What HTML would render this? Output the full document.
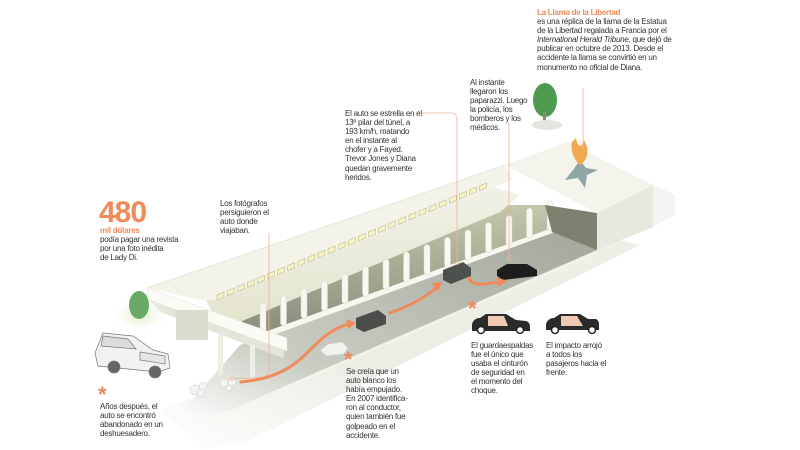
<!DOCTYPE html>
<html><head><meta charset="utf-8"><style>
html,body{margin:0;padding:0;background:#fff;}
body{width:800px;height:450px;overflow:hidden;position:relative;font-family:"Liberation Sans",sans-serif;}
.t{position:absolute;font-size:8px;line-height:9.1px;color:#333;letter-spacing:-0.25px;white-space:nowrap;}
.o{color:#ef8a5a;}
svg{position:absolute;left:0;top:0;}
</style></head><body>
<svg width="800" height="450" viewBox="0 0 800 450">
<defs>
<linearGradient id="road" x1="0" y1="1" x2="1" y2="0">
<stop offset="0" stop-color="#ffffff"/><stop offset="0.3" stop-color="#c9ccc2"/><stop offset="1" stop-color="#a3a79b"/></linearGradient>
<linearGradient id="dark" x1="0" y1="0" x2="0" y2="1">
<stop offset="0" stop-color="#c4c6aa"/><stop offset="1" stop-color="#888d7c"/></linearGradient>
<linearGradient id="wall" x1="0" y1="0" x2="0" y2="1">
<stop offset="0" stop-color="#f0f0e6"/><stop offset="1" stop-color="#e4e5cf"/></linearGradient>
<radialGradient id="glow" cx="0.5" cy="0.5" r="0.5"><stop offset="0" stop-color="#d8ecc0"/><stop offset="1" stop-color="#ffffff" stop-opacity="0"/></radialGradient>
<linearGradient id="gnd" x1="0" y1="1" x2="1" y2="0"><stop offset="0" stop-color="#fff"/><stop offset="0.4" stop-color="#eceee5"/><stop offset="1" stop-color="#eeefe6"/></linearGradient>
</defs>
<polygon points="160,410 597,235 640,245 250,440 200,450" fill="url(#gnd)"/>
<polygon points="240,345 555,225 597,250 230,410 175,420" fill="url(#road)"/>
<line x1="230" y1="412" x2="597" y2="252" stroke="#f4f4ee" stroke-width="1.5"/>
<polygon points="225,320 490,205 545,205 560,228 263,335" fill="url(#dark)"/>
<polygon points="205,298 485,185 520,195 500,212 240,322 215,318" fill="url(#wall)"/>
<polygon points="147,288 505,165 512,180 217,300 200,300" fill="#f3f3ea"/>
<line x1="147" y1="288" x2="505" y2="165" stroke="#e4e4da" stroke-width="1"/>
<g id="lights"></g>
<polygon points="262,333 552,228 555,232 265,338" fill="#f7f7ef"/>
<g id="pil"></g>
<polygon points="147,288 287,338 287,351 147,301" fill="#fbfbf5" stroke="#e2e2d8" stroke-width="0.5"/>
<polygon points="150,300 285,350 283,358 160,312" fill="#e4e5da"/>
<rect x="176" y="310" width="32" height="30" fill="#dcdccf"/>
<rect x="218" y="335" width="5" height="40" fill="#eeeee6"/>
<rect x="250" y="345" width="5" height="35" fill="#eeeee6"/>
<polygon points="545,205 597,213 597,250 552,232" fill="#7d8170"/>
<polygon points="505,165 567,142 653,185 597,213" fill="#f4f4ec"/>
<polygon points="597,213 653,185 653,227 597,250" fill="#e8e8de"/>
<polygon points="653,185 675,195 675,215 653,227" fill="#f4f4f4"/>
<ellipse cx="140" cy="315" rx="30" ry="18" fill="url(#glow)"/>
<ellipse cx="139" cy="305" rx="10" ry="14" fill="#6aa865"/>
<ellipse cx="545" cy="100" rx="12" ry="17" fill="#4f9a4e"/>
<rect x="543" y="112" width="3" height="14" fill="#8a8a7a"/>
<ellipse cx="547" cy="125" rx="15" ry="5" fill="#e5e5e0"/>
<polygon points="580,160 586,168 598,170 587,175 585,188 578,178 565,180 573,170" fill="#8fa6a6"/>
<path d="M572,142 C570,150 574,160 580,165 C588,160 590,150 584,140 C582,148 578,148 576,138 Z" fill="#f0a94e"/>
<path d="M356,318 l22,-8 l8,6 l0,8 l-22,8 l-8,-4 z" fill="#4a4d4a"/>
<path d="M443,270 l20,-8 l8,6 l0,8 l-20,8 l-8,-4 z" fill="#4d514e"/>
<path d="M497,270 l10,-6 l20,0 l10,6 l0,6 l-34,4 l-6,-4 z" fill="#1d1d1d"/>
<path d="M320,350 l8,-6 l14,-2 l6,6 l-4,6 l-18,2 z" fill="#f1f1ee" stroke="#ccc" stroke-width="0.6"/>
<g fill="#f4f4f2" stroke="#c8c8c8" stroke-width="0.5">
<circle cx="195" cy="390" r="5"/><circle cx="203" cy="386" r="4"/><circle cx="201" cy="393" r="4"/>
<circle cx="224" cy="383" r="4"/><circle cx="232" cy="382" r="4"/><circle cx="229" cy="388" r="3"/></g>
<g fill="#f2f2f2" stroke="#777" stroke-width="0.7">
<path d="M95,353 l8,-20 l30,3 l20,14 l15,4 l2,14 l-12,4 l-60,-6 z"/>
<path d="M103,336 l25,3 l8,10 l-35,-3 z" fill="#dcdcdc"/>
<path d="M140,352 l25,4 l0,8 l-25,-4 z" fill="#e6e6e6"/>
<circle cx="114" cy="367" r="6" fill="#666"/><circle cx="155" cy="372" r="6" fill="#666"/>
</g>
<g fill="none" stroke="#ef8a5a" stroke-width="3" stroke-linecap="round">
<path d="M241,382 C285,378 300,360 315,345 C325,335 338,326 350,324"/>
<path d="M390,313 C410,306 428,296 438,286"/>
<path d="M469,278 C472,287 485,284 500,282"/>
</g>
<g fill="#ef8a5a">
<polygon points="356,323 346,319 348,329"/>
<polygon points="442,282 432,283 438,292"/>
<polygon points="507,281 497,277 498,287"/>
</g>
<g fill="none" stroke="#efb39a" stroke-width="0.8">
<path d="M269,233 L269,370 C269,378 260,377 252,378 L233,379"/>
<circle cx="232" cy="379" r="1.5"/>
<path d="M422,113 L452,113 C456,113 457,117 457,121 L457,262"/>
<circle cx="457" cy="263" r="1.5"/>
<path d="M509,122 L509,258"/>
<circle cx="509" cy="259" r="1.5"/>
<path d="M583,88 L583,150"/>
</g>
<g>
<path d="M472,324 q2,-6 8,-6 l6,-4 l20,0 l10,6 l10,1 q4,1 4,6 l0,4 l-58,0 z" fill="#2b2b2b"/>
<path d="M488,316 l16,0 l4,10 l-20,0 z" fill="#eec9b3"/>
<circle cx="481" cy="330" r="3.5" fill="#fff" stroke="#222" stroke-width="1.5"/><circle cx="520" cy="330" r="3.5" fill="#fff" stroke="#222" stroke-width="1.5"/>
<path d="M546,324 q2,-6 8,-6 l6,-4 l20,0 l8,5 l8,0 q3,1 3,6 l0,5 l-53,0 z" fill="#2b2b2b"/>
<path d="M561,316 l16,0 l6,10 l-22,0 z" fill="#eec9b3"/>
<circle cx="555" cy="330" r="3.5" fill="#fff" stroke="#222" stroke-width="1.5"/><circle cx="592" cy="330" r="3.5" fill="#fff" stroke="#222" stroke-width="1.5"/>
</g>
</svg>
<script>
(function(){
var ns="http://www.w3.org/2000/svg";
var L=document.getElementById("lights");
for(var i=0;i<27;i++){var x=217+i*10.1,y=300-i*4.2;var p=document.createElementNS(ns,"polygon");
p.setAttribute("points",x+","+y+" "+(x+7)+","+(y-2.9)+" "+(x+7)+","+(y-7.9)+" "+x+","+(y-5));
p.setAttribute("fill","#f7f2c4");p.setAttribute("stroke","#bdb98f");p.setAttribute("stroke-width","0.6");L.appendChild(p);}
var P=document.getElementById("pil");
for(var j=0;j<15;j++){var px=263+j*20.5,py=333-j*7.3;var h=30;var r2=document.createElementNS(ns,"rect");
r2.setAttribute("x",px-3);r2.setAttribute("y",py-h);r2.setAttribute("width",6);r2.setAttribute("height",h);r2.setAttribute("rx",3);
r2.setAttribute("fill","#f8f8f0");r2.setAttribute("stroke","#d6d6c8");r2.setAttribute("stroke-width","0.5");P.appendChild(r2);}
})();
</script>
<div class="t" style="left:537px;top:8px;"><b class="o">La Llama de la Libertad</b><br>es una réplica de la llama de la Estatua<br>de la Libertad regalada a Francia por el<br><i>International Herald Tribune</i>, que dejó de<br>publicar en octubre de 2013. Desde el<br>accidente la llama se convirtió en un<br>monumento no oficial de Diana.</div>
<div class="t" style="left:470px;top:78px;">Al instante<br>llegaron los<br>paparazzi. Luego<br>la policía, los<br>bomberos y los<br>médicos.</div>
<div class="t" style="left:345px;top:109px;">El auto se estrella en el<br>13º pilar del túnel, a<br>193 km/h, matando<br>en el instante al<br>chofer y a Fayed.<br>Trevor Jones y Diana<br>quedan gravemente<br>heridos.</div>
<div class="t" style="left:220px;top:199px;">Los fotógrafos<br>persiguieron el<br>auto donde<br>viajaban.</div>
<div class="t o" style="left:99px;top:198px;font-size:30px;line-height:30px;font-weight:bold;letter-spacing:-1px;">480</div>
<div class="t o" style="left:100px;top:226px;font-weight:bold;">mil dólares</div>
<div class="t" style="left:100px;top:235px;">podía pagar una revista<br>por una foto inédita<br>de Lady Di.</div>
<div class="t o" style="left:98px;top:384px;font-size:22px;line-height:22px;font-weight:bold;">*</div>
<div class="t" style="left:100px;top:402px;">Años después, el<br>auto se encontró<br>abandonado en un<br>deshuesadero.</div>
<div class="t o" style="left:344px;top:349px;font-size:22px;line-height:22px;font-weight:bold;">*</div>
<div class="t" style="left:346px;top:367px;">Se creía que un<br>auto blanco los<br>había empujado.<br>En 2007 identifica-<br>ron al conductor,<br>quien también fue<br>golpeado en el<br>accidente.</div>
<div class="t o" style="left:468px;top:298px;font-size:22px;line-height:22px;font-weight:bold;">*</div>
<div class="t" style="left:471px;top:341px;">El guardaespaldas<br>fue el único que<br>usaba el cinturón<br>de seguridad en<br>el momento del<br>choque.</div>
<div class="t" style="left:546px;top:341px;">El impacto arrojó<br>a todos los<br>pasajeros hacia el<br>frente.</div>
</body></html>
